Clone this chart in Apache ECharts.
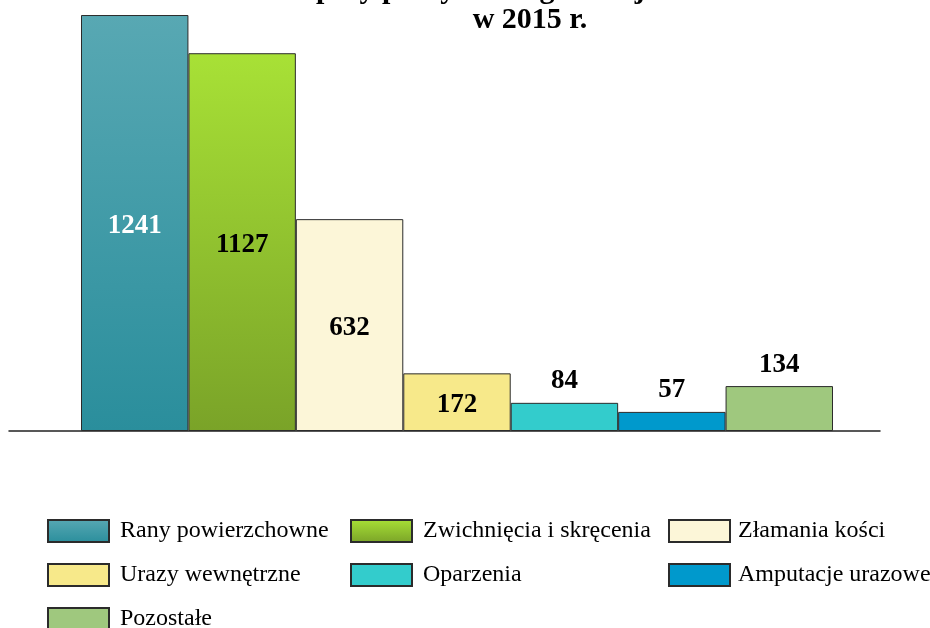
<!DOCTYPE html>
<html>
<head>
<meta charset="utf-8">
<script src="https://cdn.jsdelivr.net/npm/echarts@6/dist/echarts.min.js"></script>
<style>html,body{margin:0;padding:0;background:#fff}#c{width:930px;height:628px}</style>
</head>
<body>
<div id="c"></div>
<script>
const categories = ['Rany powierzchowne','Zwichnięcia i skręcenia','Złamania kości','Urazy wewnętrzne','Oparzenia','Amputacje urazowe','Pozostałe'];
const values = [1241, 1127, 632, 172, 84, 57, 134];
const titleText = 'Poszkodowani w wypadkach\nprzy pracy według rodzaju urazu\nw 2015 r.';

const colors = [
  {type:'linear',x:0,y:0,x2:0,y2:1,colorStops:[{offset:0,color:'#58a8b3'},{offset:1,color:'#2a8e9c'}]},
  {type:'linear',x:0,y:0,x2:0,y2:1,colorStops:[{offset:0,color:'#a8e136'},{offset:1,color:'#7aa328'}]},
  '#fcf6d8','#f7e98a','#33cccc','#0099cc','#9fc87e'
];
const labelInside = [true,true,true,true,false,false,false];
const labelColor = ['#ffffff','#000','#000','#000','#000','#000','#000'];

const series = categories.map((name,i)=>({
  name: name,
  type: 'bar',
  stack: 'all',
  xAxisIndex: 0, yAxisIndex: 0,
  barCategoryGap: '0%',
  data: categories.map((c,j)=> j===i ? values[i] : '-'),
  itemStyle: {color: colors[i], borderColor: '#2b2b2b', borderWidth: 1},
  label: {
    show: true,
    position: labelInside[i] ? 'inside' : 'top',
    offset: labelInside[i] ? [0, 3] : [0, 0],
    distance: 8,
    color: labelColor[i],
    fontFamily: 'Liberation Serif',
    fontWeight: 'bold',
    fontSize: 27
  }
}));

const legendCommon = {
  orient: 'vertical', padding: 0, itemWidth: 61, itemHeight: 22, itemGap: 20,
  height: 200,
  selectedMode: false, icon: 'rect',
  textStyle: {fontFamily: 'Liberation Serif', fontSize: 24, color: '#000', padding: [0,0,0,6]}
};

const chart = echarts.init(document.getElementById('c'));
chart.setOption({
  backgroundColor: '#fff',
  animation: false,
  title: {
    text: titleText, left: 525, top: -60, textAlign: 'center',
    textStyle: {fontFamily: 'Liberation Serif', fontWeight: 'bold', fontSize: 30, lineHeight: 30, color: '#000'}
  },
  legend: [
    Object.assign({}, legendCommon, {left: 47, top: 519, data: [categories[0], categories[3], categories[6]]}),
    Object.assign({}, legendCommon, {left: 350, top: 519, data: [categories[1], categories[4]]}),
    Object.assign({}, legendCommon, {left: 668, top: 519, data: [categories[2], categories[5]],
      textStyle: {fontFamily: 'Liberation Serif', fontSize: 24, color: '#000', padding: [0,0,0,3]}})
  ],
  grid: [
    {left: 81, right: 97, top: 12, bottom: 197},
    {left: 9, right: 50, top: 12, bottom: 197}
  ],
  xAxis: [
    {type: 'category', gridIndex: 0, data: categories, axisLine: {show: false}, axisTick: {show: false}, axisLabel: {show: false}},
    {type: 'value', gridIndex: 1, min: 0, max: 1, axisLine: {show: true, lineStyle: {color: '#222', width: 1.5}}, axisTick: {show: false}, axisLabel: {show: false}, splitLine: {show: false}}
  ],
  yAxis: [
    {type: 'value', gridIndex: 0, min: 0, max: 1250, show: false},
    {type: 'value', gridIndex: 1, min: 0, max: 1, show: false}
  ],
  series: series
});
</script>
</body>
</html>
